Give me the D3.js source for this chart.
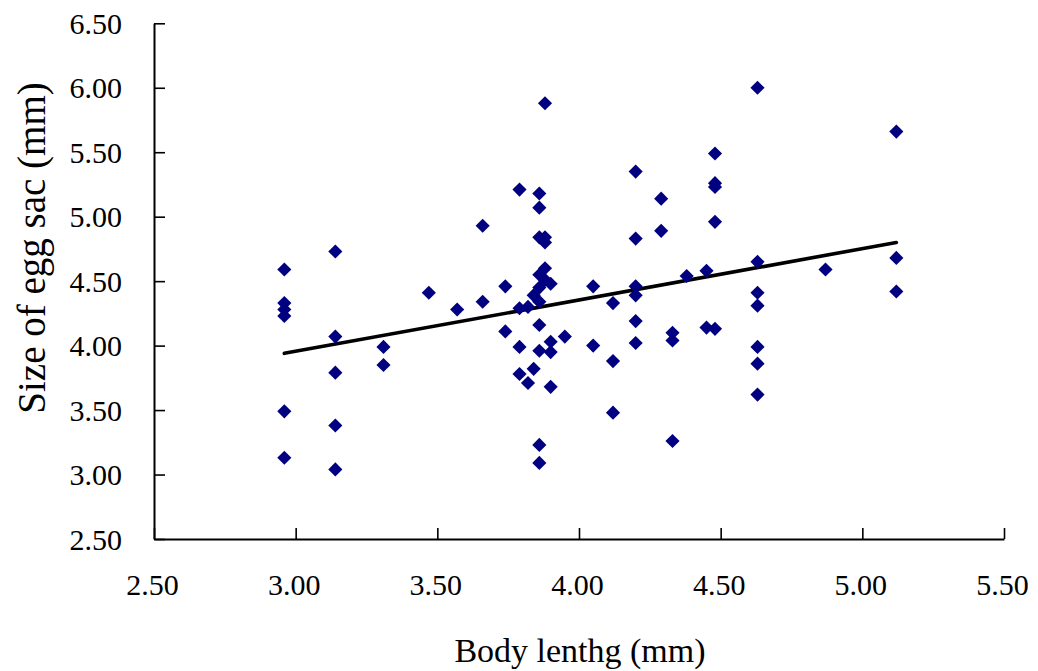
<!DOCTYPE html>
<html>
<head>
<meta charset="utf-8">
<script src="https://cdn.jsdelivr.net/npm/d3@7"></script>
<style>
  html, body { margin: 0; padding: 0; background: #fff; }
  svg { display: block; }
  text { font-family: "Liberation Serif", "Times New Roman", serif; fill: #000; }
</style>
</head>
<body>
<svg id="chart" width="1038" height="671"></svg>
<script>
// Body length (mm) of each female and the size of its egg sac (mm)
const bodyLength = [
  2.96, 2.96, 2.96, 2.96, 2.96, 2.96,
  3.14, 3.14, 3.14, 3.14, 3.14,
  3.31, 3.31,
  3.47,
  3.57,
  3.66, 3.66,
  3.74, 3.74,
  3.79, 3.79, 3.79, 3.79,
  3.82, 3.82,
  3.84, 3.84,
  3.86, 3.86, 3.86, 3.86, 3.86, 3.86, 3.86, 3.86, 3.86, 3.86,
  3.88, 3.88, 3.88, 3.88, 3.88,
  3.90, 3.90, 3.90, 3.90,
  3.95,
  4.05, 4.05,
  4.12, 4.12, 4.12,
  4.20, 4.20, 4.20, 4.20, 4.20, 4.20,
  4.29, 4.29,
  4.33, 4.33, 4.33,
  4.38,
  4.45, 4.45,
  4.48, 4.48, 4.48, 4.48, 4.48,
  4.63, 4.63, 4.63, 4.63, 4.63, 4.63, 4.63,
  4.87,
  5.12, 5.12, 5.12
];
const eggSacSize = [
  4.59, 4.33, 4.28, 4.23, 3.49, 3.13,
  4.73, 4.07, 3.79, 3.38, 3.04,
  3.99, 3.85,
  4.41,
  4.28,
  4.93, 4.34,
  4.46, 4.11,
  5.21, 4.29, 3.99, 3.78,
  4.30, 3.71,
  4.39, 3.82,
  5.18, 5.07, 4.84, 4.55, 4.45, 4.34, 4.16, 3.96, 3.23, 3.09,
  5.88, 4.84, 4.80, 4.60, 4.51,
  4.48, 4.03, 3.95, 3.68,
  4.07,
  4.46, 4.00,
  4.33, 3.88, 3.48,
  5.35, 4.83, 4.46, 4.39, 4.19, 4.02,
  5.14, 4.89,
  4.10, 4.04, 3.26,
  4.54,
  4.58, 4.14,
  5.49, 5.26, 5.23, 4.96, 4.13,
  6.00, 4.65, 4.41, 4.31, 3.99, 3.86, 3.62,
  4.59,
  5.66, 4.68, 4.42
];

// Linear trend line end points
const trendX = [2.96, 5.12];
const trendY = [3.94, 4.80];

// Axis ticks
const xTicks = [2.5, 3.0, 3.5, 4.0, 4.5, 5.0, 5.5];
const yTicks = [2.5, 3.0, 3.5, 4.0, 4.5, 5.0, 5.5, 6.0, 6.5];

const xTitle = "Body lenthg (mm)";
const yTitle = "Size of egg sac (mm)";

const svg = d3.select("#chart");
const plot = { left: 154, right: 1004, top: 23.3, bottom: 539 };

const x = d3.scaleLinear().domain([2.5, 5.5]).range([plot.left, plot.right]);
const y = d3.scaleLinear().domain([2.5, 6.5]).range([plot.bottom, plot.top]);

// Axes: ticks point into the plot
const xAxis = d3.axisBottom(x).tickValues(xTicks).tickSizeInner(-11).tickSizeOuter(0)
  .tickFormat(d3.format(".2f")).tickPadding(0);
const yAxis = d3.axisLeft(y).tickValues(yTicks).tickSizeInner(-11).tickSizeOuter(0)
  .tickFormat(d3.format(".2f")).tickPadding(0);

const gx = svg.append("g").attr("transform", `translate(0,${plot.bottom})`).call(xAxis);
const gy = svg.append("g").attr("transform", `translate(${plot.left},0)`).call(yAxis);

[gx, gy].forEach(g => {
  g.select(".domain").attr("stroke", "#000").attr("stroke-width", 2);
  g.selectAll(".tick line").attr("stroke", "#000").attr("stroke-width", 1.6);
  g.selectAll(".tick text").attr("font-size", 30).attr("font-family", "Liberation Serif").attr("fill", "#000");
});
gx.selectAll(".tick text").attr("y", 56).attr("dy", 0).attr("dx", -2);
gy.selectAll(".tick text").attr("x", -32).attr("dy", 10).attr("text-anchor", "end");

// Trend line
svg.append("line")
  .attr("x1", x(trendX[0])).attr("y1", y(trendY[0]))
  .attr("x2", x(trendX[1])).attr("y2", y(trendY[1]))
  .attr("stroke", "#000").attr("stroke-width", 3.6).attr("stroke-linecap", "round");

// Data points as navy diamonds
const diamond = d3.symbol().type(d3.symbolSquare).size(100);
svg.append("g").selectAll("path")
  .data(d3.range(bodyLength.length))
  .join("path")
  .attr("d", diamond)
  .attr("transform", i => `translate(${x(bodyLength[i])},${y(eggSacSize[i])}) rotate(45)`)
  .attr("fill", "#000080");

// Axis titles
svg.append("text")
  .attr("x", (plot.left + plot.right) / 2 + 1)
  .attr("y", 662)
  .attr("text-anchor", "middle")
  .attr("font-size", 34)
  .text(xTitle);

svg.append("text")
  .attr("transform", "translate(45,248) rotate(-90)")
  .attr("text-anchor", "middle")
  .attr("font-size", 39)
  .text(yTitle);
</script>
</body>
</html>
